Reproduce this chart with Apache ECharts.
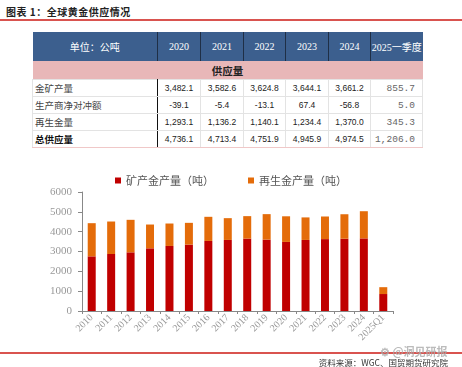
<!DOCTYPE html>
<html><head><meta charset="utf-8">
<script src="https://cdn.jsdelivr.net/npm/echarts@6/dist/echarts.min.js"></script>
<style>
html,body{margin:0;padding:0;background:#fff;width:462px;height:367px;overflow:hidden;}
#title{position:absolute;left:6px;top:4px;font:bold 10px "Noto Sans CJK SC";color:#222;letter-spacing:0.5px;}
.redline{position:absolute;left:0;width:462px;height:2px;background:#d9534f;}
#tbl{position:absolute;left:32px;top:32px;border-collapse:collapse;table-layout:fixed;}
#tbl td{padding:0;text-align:center;overflow:hidden;white-space:nowrap;}
#tbl tr.hd td{background:#3c5f8e;color:#fff;height:29px;font:10px "Liberation Serif","Noto Sans CJK SC";border-left:1px solid #1f2f46;}
#tbl tr.hd td:first-child{border-left:none;}
#tbl tr.pk td{background:#e8b7b8;color:#222;height:18px;font:bold 10.5px "Noto Sans CJK SC";}
#tbl tr.dr td{height:16px;font:8.5px "Liberation Sans";color:#222;border:1px solid #e3e3e3;}
#tbl tr.dr td.lb{text-align:left;font:9.5px "Noto Sans CJK SC";color:#444;padding-left:2px;border-right:1.5px solid #111;}
#tbl tr.dr td.lc{text-align:right;padding-right:7px;font:9.5px "Liberation Mono";color:#666;}
#tbl tr.dr.bold td.lb{font-weight:bold;color:#111;}
#tbl tr.dr:last-child td{border-bottom:1px solid #f0c8c8;}
#chart{position:absolute;left:0;top:150px;width:462px;height:217px;}
#src{position:absolute;right:14px;top:356px;font:8.5px "Noto Sans CJK SC";color:#333;}
#wm{position:absolute;left:380px;top:343px;font:bold 11px "Noto Sans CJK SC";color:rgba(170,170,170,0.8);}
</style></head>
<body>
<div id="title">图表 1：全球黄金供应情况</div>
<div class="redline" style="top:19px"></div>
<table id="tbl"></table>
<div id="chart"></div>
<div class="redline" style="top:352px"></div>
<div id="wm">⚙ @洞见研报</div>
<div id="src">资料来源：WGC、国贸期货研究院</div>
<script>
// ---- table data ----
var tableUnit = "单位：公吨";
var tableYears = ["2020","2021","2022","2023","2024","2025一季度"];
var tableSection = "供应量";
var rowMine = ["3,482.1","3,582.6","3,624.8","3,644.1","3,661.2","855.7"];
var rowHedge = ["-39.1","-5.4","-13.1","67.4","-56.8","5.0"];
var rowRecycled = ["1,293.1","1,136.2","1,140.1","1,234.4","1,370.0","345.3"];
var rowTotal = ["4,736.1","4,713.4","4,751.9","4,945.9","4,974.5","1,206.0"];
var rowLabels = ["金矿产量","生产商净对冲额","再生金量","总供应量"];

// ---- chart data ----
var categories = ["2010","2011","2012","2013","2014","2015","2016","2017","2018","2019","2020","2021","2022","2023","2024","2025Q1"];
var minedGold = [2755,2873,2958,3160,3279,3346,3532,3583,3650,3600,3482.1,3582.6,3624.8,3644.1,3661.2,855.7];
var recycledGold = [1673,1639,1639,1200,1132,1099,1217,1098,1133,1284,1293.1,1136.2,1140.1,1234.4,1370.0,345.3];
var seriesNames = ["矿产金产量（吨）","再生金产量（吨）"];
var yTicks = {min:0, max:6000, interval:1000};

// build table
var widths=[125,43,43,42,43,42,52];
var t=document.getElementById('tbl');
var cg='<colgroup>'+widths.map(function(w){return '<col style="width:'+w+'px">';}).join('')+'</colgroup>';
var h=cg+'<tr class="hd"><td>'+tableUnit+'</td>'+tableYears.map(function(y){return '<td>'+y+'</td>';}).join('')+'</tr>';
h+='<tr class="pk"><td colspan="7">'+tableSection+'</td></tr>';
[rowMine,rowHedge,rowRecycled,rowTotal].forEach(function(r,i){
  h+='<tr class="dr'+(i==3?' bold':'')+'"><td class="lb">'+rowLabels[i]+'</td>';
  r.forEach(function(v,j){h+='<td'+(j==5?' class="lc"':'')+'>'+v+'</td>';});
  h+='</tr>';
});
t.innerHTML=h;

var chart=echarts.init(document.getElementById('chart'),null,{renderer:'canvas'});
chart.setOption({
  animation:false,
  color:['#c00000','#e46c0a'],
  legend:{top:20,left:'center',itemWidth:6,itemHeight:6,itemGap:34,icon:'rect',
    textStyle:{fontFamily:'Noto Sans CJK SC',fontSize:11,color:'#555'}},
  grid:{left:82,right:69,top:42,bottom:56,containLabel:false,outerBoundsMode:'none'},
  xAxis:{type:'category',data:categories,
    axisLine:{lineStyle:{color:'#888'}},
    axisTick:{show:true,length:3,lineStyle:{color:'#888'}},
    axisLabel:{rotate:45,fontFamily:'Liberation Serif',fontSize:10,color:'#999',margin:5,interval:0}},
  yAxis:{type:'value',min:yTicks.min,max:yTicks.max,interval:yTicks.interval,
    axisLine:{show:true,lineStyle:{color:'#888'}},
    axisTick:{show:true,length:4,lineStyle:{color:'#888'}},
    splitLine:{show:false},
    axisLabel:{fontFamily:'Liberation Serif',fontSize:11,color:'#999',margin:10,
      formatter:function(v){return String(v);}}},
  series:[
    {name:seriesNames[0],type:'bar',stack:'s',data:minedGold,barWidth:8},
    {name:seriesNames[1],type:'bar',stack:'s',data:recycledGold,barWidth:8}
  ]
});
</script>
</body></html>
